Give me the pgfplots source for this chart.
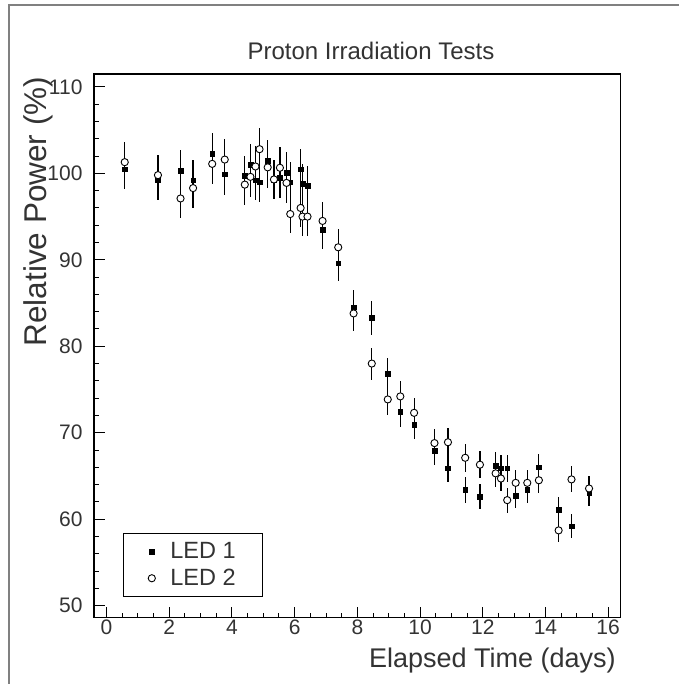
\documentclass[border=0pt]{standalone}
\usepackage{fontspec}
\setmainfont{Liberation Sans}
\usepackage{pgfplots}
\usepackage{pgfplotstable}
\pgfplotsset{compat=1.18}
\newcommand{\tickfont}{\fontsize{21pt}{24pt}\selectfont}
\newcommand{\legfont}{\fontsize{23.5pt}{27pt}\selectfont}
\newcommand{\xlabfont}{\fontsize{27pt}{30pt}\selectfont}
\newcommand{\ylabfont}{\fontsize{31.5pt}{35pt}\selectfont}
\newcommand{\titfont}{\fontsize{24pt}{28pt}\selectfont}

\pgfplotstableread{
x y e
0.58 100.5 2.35
1.64 99.2 2.3
2.36 100.3 2.35
2.76 99.2 2.3
3.37 102.3 2.4
3.77 99.9 2.35
4.41 99.7 2.35
4.59 101.0 2.35
4.75 99.2 2.3
4.88 99.0 2.3
5.14 101.5 2.4
5.34 99.3 2.3
5.53 99.5 2.35
5.74 100.1 2.35
5.86 99.0 2.3
6.19 100.5 2.35
6.25 98.8 2.3
6.41 98.6 2.3
6.89 93.5 2.2
7.39 89.6 2.1
7.88 84.5 2.0
8.46 83.3 1.95
8.97 76.8 1.8
9.37 72.4 1.7
9.81 70.9 1.65
10.46 67.9 1.6
10.89 65.9 1.55
11.44 63.4 1.5
11.91 62.6 1.45
12.41 66.2 1.55
12.58 65.9 1.55
12.78 65.9 1.55
13.05 62.7 1.45
13.42 63.4 1.5
13.79 66.0 1.55
14.42 61.1 1.45
14.83 59.2 1.4
15.39 63.0 1.45
}\ledone

\pgfplotstableread{
x y e
0.58 101.3 2.35
1.64 99.8 2.35
2.36 97.1 2.3
2.76 98.3 2.3
3.37 101.1 2.35
3.77 101.6 2.4
4.41 98.7 2.3
4.59 99.6 2.35
4.75 100.8 2.35
4.88 102.8 2.4
5.14 100.7 2.35
5.34 99.3 2.3
5.53 100.65 2.35
5.74 98.9 2.3
5.86 95.3 2.25
6.19 96.0 2.25
6.25 95.0 2.25
6.41 95.0 2.25
6.89 94.5 2.2
7.39 91.45 2.15
7.88 83.8 2.0
8.46 78.0 1.85
8.97 73.85 1.75
9.37 74.2 1.75
9.81 72.3 1.7
10.46 68.8 1.6
10.89 68.9 1.6
11.44 67.1 1.6
11.91 66.3 1.55
12.41 65.3 1.55
12.58 64.7 1.5
12.78 62.2 1.45
13.05 64.2 1.5
13.42 64.2 1.5
13.79 64.5 1.5
14.42 58.7 1.4
14.83 64.6 1.5
15.39 63.55 1.5
}\ledtwo

\begin{document}
\begin{tikzpicture}[x=1pt,y=1pt]
\path[use as bounding box] (0,0) rectangle (678,684);
\draw[black!50, line width=1.5pt] (9,-3) -- (9,679) -- (681,679);
\node[font=\titfont, text=black!80, anchor=base] at (371,624) {Proton Irradiation Tests};
\begin{axis}[
  at={(94pt,66.3pt)}, anchor=south west,
  width=526.7pt, height=543.7pt, scale only axis,
  xmin=-0.4, xmax=16.4, ymin=48.6, ymax=111.5,
  xtick={0,2,...,16}, ytick={50,60,...,110},
  minor x tick num=3, minor y tick num=4,
  tick align=inside, xtick pos=bottom, ytick pos=left,
  major tick length=11pt, minor tick length=5pt,
  every tick/.style={black, line width=1pt},
  axis line style={black, line width=1.2pt},
  /pgf/number format/assume math mode=true,
  tick label style={font=\tickfont, text=black!80},
  yticklabel style={xshift=-8pt},
  xticklabel style={yshift=1pt},
  xlabel={Elapsed Time (days)},
  ylabel={Relative Power (\%)},
  label style={font=\xlabfont, text=black!80},
  xlabel style={at={(axis description cs:0.991,-0.055)}, anchor=north east, inner sep=0pt},
  ylabel style={font=\ylabfont, at={(axis description cs:-0.105,0.995)}, anchor=east, inner sep=0pt},
  legend style={at={(axis description cs:0.0545,0.0386)}, anchor=south west,
    draw=black, line width=1pt, text=black!80, font=\legfont,
    inner xsep=25pt, inner ysep=7pt, row sep=5pt},
  legend cell align=left,
]
\addplot+[only marks, black, mark=square*, mark size=2.3pt, mark options={black, fill=black, line width=0.4pt},
  error bars/.cd, y dir=both, y explicit, error mark=none,
  error bar style={line width=1.2pt, black}]
  table[x=x, y=y, y error=e] {\ledone};
\addlegendentry{\hspace{13pt}LED 1}
\addplot+[only marks, black, mark=*, mark size=3.6pt, mark options={black, fill=white, line width=0.9pt},
  error bars/.cd, y dir=both, y explicit, error mark=none,
  error bar style={line width=1.2pt, black}]
  table[x=x, y=y, y error=e] {\ledtwo};
\addlegendentry{\hspace{13pt}LED 2}
\end{axis}
\end{tikzpicture}
\end{document}
